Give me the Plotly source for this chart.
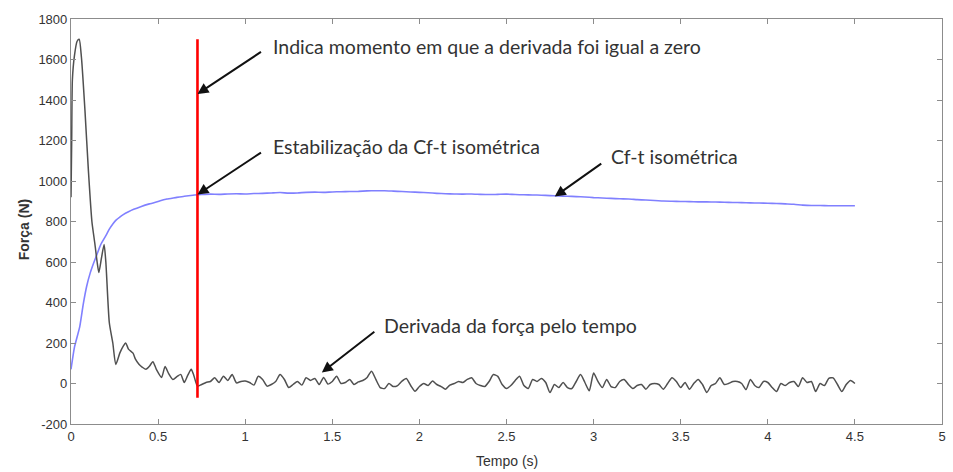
import numpy as np
import plotly.graph_objects as go

# ---------------- data ----------------
# Derivative of force (black), early transient part
deriv_t_early = [0.0, 0.004, 0.008, 0.02, 0.035, 0.047, 0.06, 0.08, 0.10, 0.12, 0.137, 0.15, 0.16,
                 0.175, 0.19, 0.20, 0.22, 0.24, 0.257, 0.28, 0.30, 0.314, 0.33, 0.356, 0.37, 0.39,
                 0.41, 0.43, 0.45, 0.47, 0.49, 0.52, 0.54, 0.56, 0.585, 0.61, 0.63, 0.65, 0.67,
                 0.69, 0.705, 0.726]
deriv_v_early = [920, 1200, 1500, 1620, 1690, 1700, 1610, 1350, 1050, 800, 690, 600, 548,
                 620, 686, 600, 300, 200, 94, 150, 185, 200, 170, 150, 120, 95,
                 80, 70, 85, 108, 70, 30, 84, 50, 20, 35, 45, 5, 40,
                 70, 40, -13]
# Derivative of force, later oscillating part (sampled every 0.025 s from 0.75 s)
deriv_late_start = 0.75
deriv_late_step = 0.025
deriv_v_late = [
    -5, 5, 10, 28, 5, 36, 15, 44, 3, 10,
    12, 5, -8, 36, 20, -13, -5, 10, 44, 20,
    -20, -5, 10, -8, 28, 15, 25, -5, 30, -3,
    10, 36, 0, 5, 20, -5, 8, 15, 30, 61,
    20, -20, -25, 0, -15, -10, 12, 25, -10, -38,
    -15, 0, -10, 12, -5, -15, -28, -8, 0, 10,
    5, 20, 28, 0, -10, -15, 10, 44, 35, -5,
    -25, -10, 15, 36, -10, -25, 20, 10, 25, 5,
    -45, -5, -20, 5, -20, -25, 10, 44, 5, -36,
    52, 10, -20, 20, -15, -20, 10, 20, -5, -25,
    -10, -5, -28, -5, 0, -5, -28, 0, 28, 10,
    -20, 5, -28, 0, 20, -5, -44, -10, 0, 28,
    -5, 0, 10, 10, 0, -30, 20, -10, -20, 10,
    5, -20, -40, 0, -10, 5, 10, -15, 28, 5,
    10, -40, 0, -10, 25, 28, -5, -40, -5, 15,
    0,
]

# Isometric force-time curve (blue)
cf_t_early = [0.0, 0.02, 0.05, 0.07, 0.09, 0.11, 0.13, 0.15, 0.17, 0.20, 0.22, 0.24, 0.26,
              0.28, 0.30, 0.33, 0.36, 0.40, 0.45, 0.50, 0.55, 0.60, 0.65, 0.70, 0.75]
cf_v_early = [70, 180, 280, 390, 480, 545, 595, 640, 685, 730, 762, 788, 808,
              822, 834, 848, 860, 873, 887, 899, 911, 918, 925, 930, 933]
cf_late_start = 0.80
cf_late_step = 0.05
cf_v_late = [
    935, 934, 936, 937, 936, 938, 939, 941, 943, 940,
    941, 944, 945, 944, 946, 947, 948, 949, 951, 952,
    952, 950, 948, 946, 944, 942, 939, 937, 936, 935,
    936, 934, 933, 934, 935, 933, 932, 931, 930, 928,
    926, 925, 923, 921, 918, 916, 914, 912, 911, 908,
    906, 904, 901, 900, 899, 898, 897, 897, 896, 895,
    894, 893, 892, 891, 890, 889, 887, 885, 881, 879,
    879, 878, 878, 878, 878,
]

# Marker of the instant where derivative reached zero
zero_t = 0.726
zero_line_y = [-70, 1700]

x_ticks = [0, 0.5, 1, 1.5, 2, 2.5, 3, 3.5, 4, 4.5, 5]
x_tick_text = ["0", "0.5", "1", "1.5", "2", "2.5", "3", "3.5", "4", "4.5", "5"]
y_ticks = [-200, 0, 200, 400, 600, 800, 1000, 1200, 1400, 1600, 1800]
y_tick_text = ["-200", "0", "200", "400", "600", "800", "1000", "1200", "1400", "1600", "1800"]

# ---------------- build series ----------------
deriv_t_late = [round(deriv_late_start + i * deriv_late_step, 4) for i in range(len(deriv_v_late))]
deriv_t = deriv_t_early + deriv_t_late
deriv_v = deriv_v_early + deriv_v_late

cf_t_late = [round(cf_late_start + i * cf_late_step, 4) for i in range(len(cf_v_late))]
cf_t = cf_t_early + cf_t_late
cf_v = cf_v_early + cf_v_late

fig = go.Figure()
fig.add_trace(go.Scatter(x=cf_t, y=cf_v, mode="lines",
                         line=dict(color="#8080ff", width=1.6, shape="spline", smoothing=0.5),
                         hoverinfo="skip"))
fig.add_trace(go.Scatter(x=deriv_t, y=deriv_v, mode="lines",
                         line=dict(color="#505050", width=1.5, shape="spline", smoothing=0.6),
                         hoverinfo="skip"))
fig.add_trace(go.Scatter(x=[zero_t, zero_t], y=zero_line_y, mode="lines",
                         line=dict(color="#ff0000", width=2.6), hoverinfo="skip"))

ann_font = dict(family="Lato, Open Sans, sans-serif", size=19.5, color="#333333")

arrows = [
    # head x, head y, ax px, ay px
    (zero_t, 1430, 65, -43),
    (zero_t, 933, 65, -43),
    (2.777, 923, 48, -34),
    (1.44, 54, 54, -42),
]
texts = [
    (1.149, 1664, "Indica momento em que a derivada foi igual a zero"),
    (1.149, 1170, "Estabilização da Cf-t isométrica"),
    (3.091, 1121, "Cf-t isométrica"),
    (1.783, 286, "Derivada da força pelo tempo"),
]

annotations = []
for hx, hy, ax, ay in arrows:
    annotations.append(dict(x=hx, y=hy, xref="x", yref="y", text="", showarrow=True,
                            ax=ax, ay=ay, arrowhead=2, arrowsize=1.1, arrowwidth=2,
                            arrowcolor="#111111"))
for tx, ty, txt in texts:
    annotations.append(dict(x=tx, y=ty, xref="x", yref="y", text=txt, showarrow=False,
                            xanchor="left", yanchor="middle", font=ann_font))

annotations.append(dict(x=2.5, y=-0.091, xref="x", yref="paper", text="Tempo (s)",
                        showarrow=False, xanchor="center", yanchor="middle",
                        font=dict(family="Liberation Sans, Arial, sans-serif", size=14, color="#333333")))
annotations.append(dict(x=-0.0537, y=0.479, xref="paper", yref="paper", text="<b>Força (N)</b>",
                        showarrow=False, textangle=-90, xanchor="center", yanchor="middle",
                        font=dict(family="Liberation Sans, Arial, sans-serif", size=14, color="#333333")))

axis_common = dict(showgrid=False, zeroline=False, showline=True, linecolor="#8c8c8c",
                   linewidth=1.2, mirror="ticks", ticks="inside", ticklen=5, tickcolor="#8c8c8c",
                   tickfont=dict(family="Liberation Sans, Arial, sans-serif", size=13, color="#333333"))

fig.update_layout(
    width=953, height=472,
    margin=dict(l=71, r=7, t=19, b=48),
    paper_bgcolor="white", plot_bgcolor="white",
    showlegend=False,
    xaxis=dict(range=[0, 5], tickvals=x_ticks, ticktext=x_tick_text, **axis_common),
    yaxis=dict(range=[-200, 1800], tickvals=y_ticks, ticktext=y_tick_text, **axis_common),
    annotations=annotations,
)

fig.write_html("out.html")
